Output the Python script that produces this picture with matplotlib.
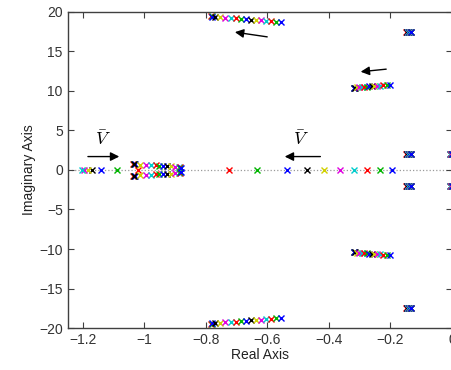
import matplotlib
matplotlib.use('Agg')
import matplotlib.pyplot as plt
import numpy as np

plt.rcParams['font.family'] = ['Liberation Sans', 'DejaVu Sans']
plt.rcParams['mathtext.fontset'] = 'cm'

# MATLAB-like colour cycle, one colour per system
colors = ['#ff0000', '#00b400', '#0000ff', '#000000', '#d0d000', '#e000e0', '#00cccc']

# Pair A (around -0.7 +/- 19j)
pA_re = [-0.785, -0.782, -0.779, -0.770, -0.753, -0.737, -0.720, -0.704, -0.687,
         -0.671, -0.654, -0.638, -0.621, -0.605, -0.588, -0.572, -0.555]
pA_im = [19.45, 19.43, 19.41, 19.38, 19.33, 19.28, 19.23, 19.18, 19.13,
         19.08, 19.03, 18.98, 18.93, 18.88, 18.82, 18.76, 18.68]

# Pair B (around -0.25 +/- 10.5j)
pB_re = [-0.320, -0.319, -0.318, -0.317, -0.309, -0.301, -0.293, -0.285, -0.277,
         -0.269, -0.261, -0.253, -0.244, -0.235, -0.224, -0.212, -0.200]
pB_im = [10.38, 10.39, 10.40, 10.42, 10.45, 10.48, 10.50, 10.53, 10.55,
         10.57, 10.60, 10.62, 10.65, 10.67, 10.70, 10.72, 10.75]

# Pair C (around -0.95 +/- 0.5j)
pC_re = [-1.036, -1.034, -1.032, -1.033, -1.014, -0.994, -0.978, -0.962, -0.952,
         -0.939, -0.926, -0.913, -0.900, -0.887, -0.885, -0.883, -0.881]
pC_im = [0.78, 0.77, 0.76, 0.75, 0.63, 0.61, 0.59, 0.57, 0.55,
         0.52, 0.49, 0.46, 0.42, 0.37, 0.32, 0.28, 0.25]

# real pole
real_pole = [-1.02, -1.09, -1.14, -1.17, -1.185, -1.198, -1.203, -0.725, -0.635,
             -0.537, -0.471, -0.416, -0.364, -0.319, -0.276, -0.234, -0.195]

# nearly fixed poles (+/-17.5j, +/-2j near -0.14, +/-2j near 0)
fD_re = [-0.148, -0.147, -0.146, -0.145, -0.144, -0.143, -0.142, -0.141, -0.140,
         -0.139, -0.138, -0.137, -0.136, -0.135, -0.134, -0.133, -0.132]
fD_im = 17.5
fE_re = [-0.148, -0.147, -0.146, -0.145, -0.144, -0.143, -0.142, -0.141, -0.140,
         -0.139, -0.138, -0.137, -0.136, -0.135, -0.134, -0.133, -0.132]
fE_im = 2.0
fF_re = [-0.008, -0.0075, -0.007, -0.0065, -0.006, -0.0055, -0.005, -0.0045, -0.004,
         -0.0035, -0.003, -0.0025, -0.002, -0.0015, -0.001, -0.0005, 0.0]
fF_im = 2.0

fig = plt.figure(figsize=(4.52, 3.70), dpi=100)
ax = fig.add_axes([0.1496, 0.1135, 0.8504, 0.8541])

ax.axhline(0, color='#9a9a9a', linestyle=':', linewidth=0.9, zorder=0)

for k in range(len(real_pole)):
    c = colors[k % len(colors)]
    re = [pA_re[k], pA_re[k], pB_re[k], pB_re[k], pC_re[k], pC_re[k], real_pole[k],
          fD_re[k], fD_re[k], fE_re[k], fE_re[k], fF_re[k], fF_re[k]]
    im = [pA_im[k], -pA_im[k], pB_im[k], -pB_im[k], pC_im[k], -pC_im[k], 0.0,
          fD_im, -fD_im, fE_im, -fE_im, fF_im, -fF_im]
    ax.plot(re, im, 'x', color=c, markersize=4.5, markeredgewidth=1.0, clip_on=False)

# arrows and labels
arrow = dict(arrowstyle='-|>', color='k', lw=1.0, mutation_scale=13)
ax.annotate('', xy=(-0.715, 17.5), xytext=(-0.592, 16.8), arrowprops=arrow)
ax.annotate('', xy=(-0.306, 12.4), xytext=(-0.205, 12.8), arrowprops=arrow)
ax.annotate('', xy=(-0.553, 1.7), xytext=(-0.419, 1.7), arrowprops=arrow)
ax.annotate('', xy=(-1.073, 1.7), xytext=(-1.193, 1.7), arrowprops=arrow)
ax.text(-0.49, 2.7, r'$\bar{V}$', fontsize=13, ha='center', va='bottom')
ax.text(-1.135, 2.7, r'$\bar{V}$', fontsize=13, ha='center', va='bottom')

ax.set_xlim(-1.25, 0)
ax.set_ylim(-20, 20)
ax.set_xticks([-1.2, -1.0, -0.8, -0.6, -0.4, -0.2, 0])
ax.set_xticklabels(['\u22121.2', '\u22121', '\u22120.8', '\u22120.6', '\u22120.4', '\u22120.2', '0'])
ax.set_yticks([-20, -15, -10, -5, 0, 5, 10, 15, 20])
ax.set_yticklabels(['\u221220', '\u221215', '\u221210', '\u22125', '0', '5', '10', '15', '20'])

axis_col = '#404040'
for s in ax.spines.values():
    s.set_color(axis_col)
    s.set_linewidth(1.0)
ax.tick_params(direction='in', length=4, width=0.8, colors=axis_col, labelsize=10,
               top=True, right=True, labelcolor='#333333')
ax.set_xlabel('Real Axis', fontsize=10, color='#222222', labelpad=1)
ax.set_ylabel('Imaginary Axis', fontsize=10, color='#222222', labelpad=2)

fig.savefig('out.png', dpi=100)
